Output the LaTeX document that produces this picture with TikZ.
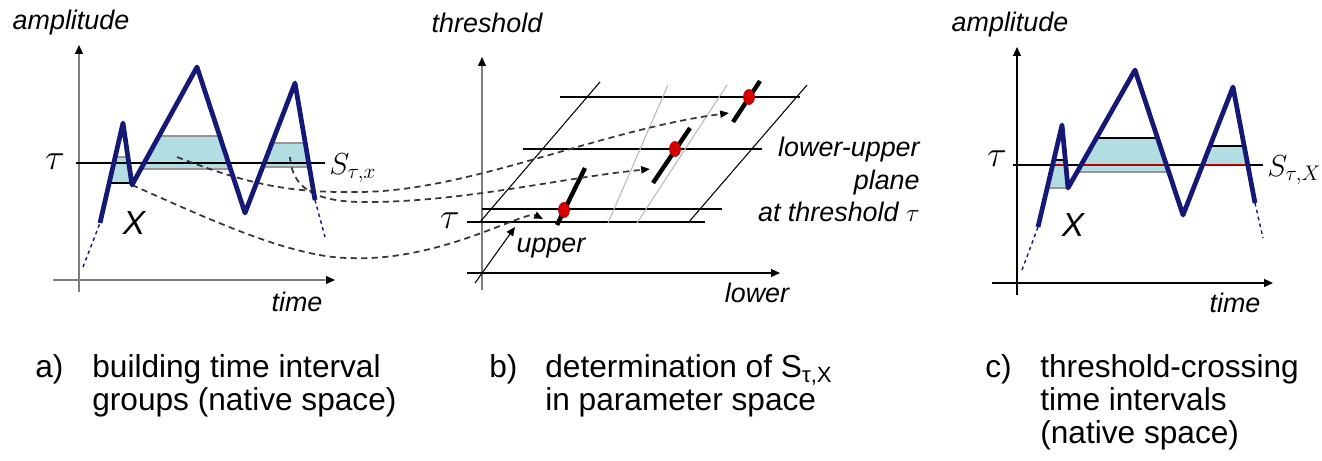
\documentclass[tikz,border=0pt]{standalone}
\usepackage{fontspec}
\setmainfont{Liberation Sans}
\usetikzlibrary{arrows.meta, positioning, shapes.geometric}

\definecolor{sigblue}{RGB}{22,24,118}
\definecolor{bandfill}{RGB}{178,221,226}
\definecolor{bandedge}{RGB}{150,150,150}
\definecolor{dotred}{RGB}{214,0,0}
\definecolor{axisgray}{RGB}{125,125,125}
\definecolor{linkgray}{RGB}{55,55,55}

\begin{document}
\begin{tikzpicture}[
    x=0.02cm, y=-0.02cm,
    axis/.style={
        -{Triangle[length=5pt,width=4.4pt,color=black]},
        line width=0.8pt,
        draw=black
    },
    signal/.style={
        draw=sigblue,
        line width=2.7pt,
        line join=round
    },
    tail/.style={
        draw=sigblue,
        line width=0.8pt,
        dash pattern=on 2pt off 2pt
    },
    thresh/.style={
        draw=black,
        line width=0.8pt
    },
    band/.style={
        fill=bandfill
    },
    bandline/.style={
        draw=bandedge,
        line width=1.2pt
    },
    link/.style={
        -{Triangle[length=5pt,width=4pt,color=black]},
        draw=linkgray,
        line width=1pt,
        dash pattern=on 3.5pt off 2.5pt
    },
    bar/.style={
        draw=black,
        line width=2.5pt
    },
    guide/.style={
        draw=black!28,
        line width=0.6pt
    },
    reddot/.style={
        ellipse,
        fill=dotred,
        draw=dotred!80!black,
        line width=0.4pt,
        inner sep=0pt,
        minimum width=0.22cm,
        minimum height=0.3cm
    },
    axlabel/.style={
        font=\fontsize{15.3}{18.4}\selectfont\itshape,
        inner sep=0pt
    },
    biglabel/.style={
        font=\fontsize{19}{20}\selectfont\itshape,
        inner sep=0pt
    },
    greek/.style={
        font=\fontsize{22}{24}\selectfont,
        inner sep=0pt
    },
    setlabel/.style={
        font=\fontsize{18}{20}\selectfont,
        inner sep=0pt
    },
    caption/.style={
        font=\fontsize{18}{18.8}\selectfont,
        inner sep=0pt,
        align=left
    }
]

\useasboundingbox (0,0) rectangle (1322,460);

% ============================================================
% Left: building time interval groups (native space)
% ============================================================

\begin{scope}
    \foreach \i/\x/\y in {0/83/267,1/100/223,2/123/123,3/132/185,4/197/67,
                          5/245/213,6/295/83,7/315/200,8/325/237}
        \coordinate (a\i) at (\x,\y);

    \begin{scope}
        \clip (a1) -- (a2) -- (a3) -- (a4) -- (a5) -- (a6) -- (a7)
            -- (315,320) -- (100,320) -- cycle;
        \fill[band] (100,157) rectangle (132,183);
        \fill[band] (132,136) rectangle (245,169);
        \fill[band] (245,143) rectangle (315,167);
        \draw[bandline] (100,157) -- (132,157);
        \draw[bandline] (132,136) -- (245,136);
        \draw[bandline] (132,169) -- (245,169);
        \draw[bandline] (245,143) -- (315,143);
        \draw[bandline] (245,167) -- (315,167);
        \draw[thresh] (100,183) -- (132,183);
    \end{scope}

    \draw[axis, draw=axisgray] (79,292) -- (79,45);
    \draw[axis, draw=axisgray] (53,280) -- (335,280);
    \draw[thresh] (76,163) -- (325,163);

    \node[axlabel] (ampa) at (71,23) {amplitude};
    \node[axlabel] (timea) at (297,302) {time};
    \node[greek] (taua) at (55,162) {$\tau$};
    \node[setlabel, anchor=west] (sa) at (329,168) {$S_{\tau,x}$};
    \node[biglabel] (xa) at (134,223) {X};
\end{scope}

% ============================================================
% Middle: lower-upper plane in parameter space
% ============================================================

\begin{scope}
    \draw[axis, draw=axisgray] (482,290) -- (482,57);
    \draw[axis] (467,273) -- (780,273);
    \draw[axis, line width=0.6pt] (475,283) -- (515,227);

    \foreach \y/\xa/\xb in {222/467/705, 209/482/722, 149/523/762, 97/560/800}
        \draw[thresh] (\xa,\y) -- (\xb,\y);

    \draw[thresh, line width=0.6pt] (480,222) -- (600,82);
    \draw[thresh, line width=0.6pt] (688,223) -- (807,85);
    \draw[guide] (608,223) -- (668,85);
    \draw[guide] (637,223) -- (727,85);

    \foreach \i/\xa/\ya/\xb/\yb/\xd/\yd in {1/557/225/585/168/564/210,
                                           2/653/183/690/128/675/149,
                                           3/733/122/760/81/749/97} {
        \draw[bar] (\xa,\ya) -- (\xb,\yb);
        \node[reddot] (dot\i) at (\xd,\yd) {};
    }

    \node[axlabel] (thr) at (487,23) {threshold};
    \node[axlabel] (low) at (757,293) {lower};
    \node[axlabel] (upp) at (551,248) {upper};
    \node[greek] (taub) at (450,221) {$\tau$};
    \node[axlabel, anchor=north east, align=right] (plane) at (920,137)
        {lower-upper\\plane\\at threshold $\tau$};
\end{scope}

% ============================================================
% Right: threshold-crossing time intervals (native space)
% ============================================================

\begin{scope}
    \foreach \i/\x/\y in {0/1022/270,1/1038/227,2/1062/125,3/1068/188,4/1135/70,
                          5/1183/215,6/1233/87,7/1255/203,8/1263/238}
        \coordinate (c\i) at (\x,\y);

    \draw[thresh] (1013,165) -- (1263,165);

    \begin{scope}
        \clip (c1) -- (c2) -- (c3) -- (c4) -- (c5) -- (c6) -- (c7)
            -- (1255,320) -- (1038,320) -- cycle;
        \fill[band] (1038,160) rectangle (1068,188);
        \fill[band] (1068,138) rectangle (1183,172);
        \fill[band] (1183,146) rectangle (1255,165);
        \draw[bandline] (1038,188) -- (1068,188);
        \draw[bandline] (1068,172) -- (1183,172);
        \draw[thresh, line width=0.7pt] (1038,160) -- (1068,160);
        \draw[thresh, line width=0.7pt] (1068,138) -- (1183,138);
        \draw[thresh, line width=0.7pt] (1183,146) -- (1255,146);
        \draw[draw=dotred!85!black, line width=1.6pt] (1038,165) -- (1255,165);
    \end{scope}

    \draw[axis] (1017,295) -- (1017,47);
    \draw[axis] (992,283) -- (1273,283);

    \node[axlabel] (ampc) at (1010,25) {amplitude};
    \node[axlabel] (timec) at (1235,303) {time};
    \node[greek] (tauc) at (997,159) {$\tau$};
    \node[setlabel, anchor=west] (sc) at (1267,170) {$S_{\tau,X}$};
    \node[biglabel] (xc) at (1073,225) {X};
\end{scope}

% ============================================================
% Dashed links from native space into the parameter plane
% ============================================================

\coordinate (d1s) at (177,157);
\coordinate (d2s) at (290,157);
\coordinate (d3s) at (132,185);
\coordinate (d1e) at (729,113);
\coordinate (d2e) at (650,169);
\coordinate (d3e) at (543,219);

\draw[link] (d1s) .. controls (250,185) and (290,193) .. (360,192)
    .. controls (470,191) and (600,130) .. (d1e);
\draw[link] (d2s) .. controls (292,185) and (310,201) .. (360,202)
    .. controls (460,203) and (560,178) .. (d2e);
\draw[link] (d3s) .. controls (200,215) and (290,258) .. (350,258)
    .. controls (440,262) and (525,210) .. (d3e);

% signals on top
\draw[tail] (a0) -- (a1);
\draw[tail] (a7) -- (a8);
\draw[signal] (a1) -- (a2) -- (a3) -- (a4) -- (a5) -- (a6) -- (a7);
\draw[tail] (c0) -- (c1);
\draw[tail] (c7) -- (c8);
\draw[signal] (c1) -- (c2) -- (c3) -- (c4) -- (c5) -- (c6) -- (c7);

% ============================================================
% Captions
% ============================================================

\node[caption, anchor=base west] (lbla) at (35,377) {a)};
\node[caption, anchor=north west] (capa) at (92,354)
    {building time interval\\groups (native space)};
\node[caption, anchor=base west] (lblb) at (489,377) {b)};
\node[caption, anchor=north west] (capb) at (545,354)
    {determination of S\textsubscript{τ,X}\\in parameter space};
\node[caption, anchor=base west] (lblc) at (985,377) {c)};
\node[caption, anchor=north west] (capc) at (1040,354)
    {threshold-crossing\\time intervals\\(native space)};
\end{tikzpicture}
\end{document}
